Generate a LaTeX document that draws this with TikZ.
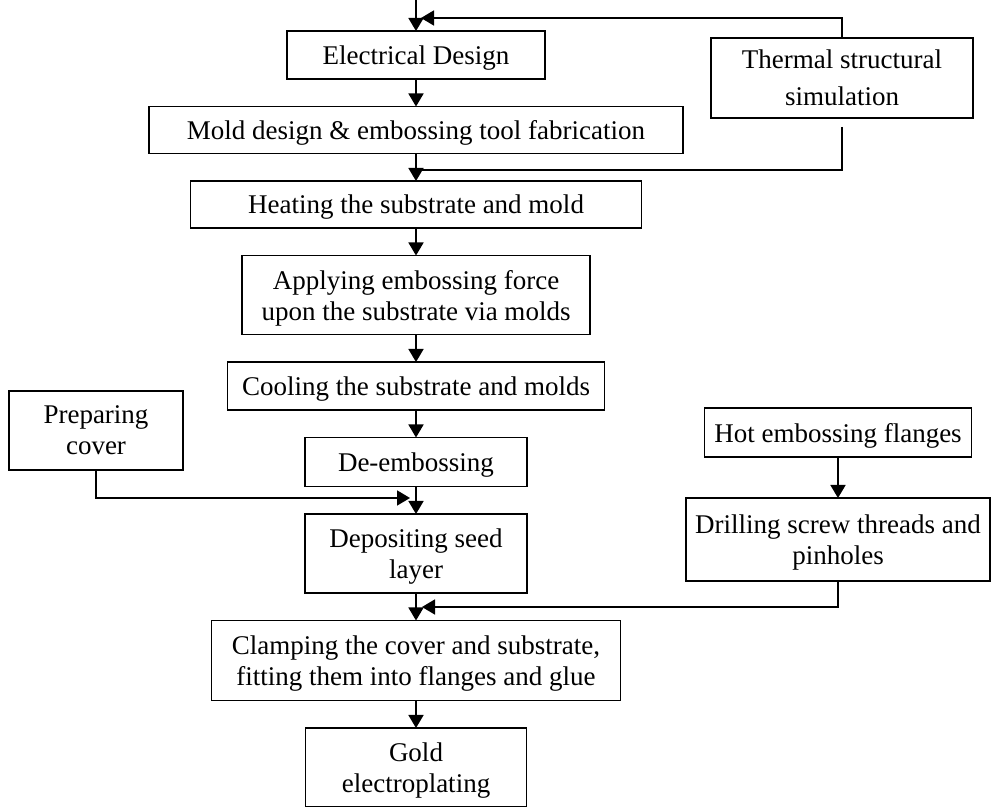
\documentclass[tikz,border=0pt]{standalone}
\usepackage{fontspec}
\setmainfont{Liberation Serif}
\usetikzlibrary{arrows.meta,positioning}
\tikzset{
    stage/.style = {draw, rectangle, align=center, inner sep=2pt, outer sep=0pt, text depth=0pt, font=\fontsize{13.5}{15.5}\selectfont},
    >={Triangle[width=7.5pt,length=6.5pt]},
}

\begin{document}
\begin{tikzpicture}[x=0.5pt, y=-0.5pt, node distance=13.75pt, line width=0.9pt]
    \useasboundingbox (0,0) rectangle (992,807);
    \coordinate (start) at (416,0);
    \node[stage, minimum width=129pt, minimum height=24pt] (elec) at (416,55) {Electrical Design};
    \node[stage, below=of elec, minimum width=267pt, minimum height=23.5pt] (mold) {Mold design \& embossing tool fabrication};
    \node[stage, below=of mold, minimum width=225.5pt, minimum height=23.5pt] (heat) {Heating the substrate and mold};
    \node[stage, below=of heat, minimum width=174pt, minimum height=39.5pt] (apply) {Applying embossing force\\upon the substrate via molds};
    \node[stage, below=of apply, minimum width=188.5pt, minimum height=24pt] (cool) {Cooling the substrate and molds};
    \node[stage, below=of cool, minimum width=111pt, minimum height=24.5pt] (demb) {De-embossing};
    \node[stage, below=of demb, minimum width=111pt, minimum height=39.5pt] (depo) {Depositing seed\\layer};
    \node[stage, below=of depo, minimum width=204.5pt, minimum height=40pt] (clamp) {Clamping the cover and substrate,\\fitting them into flanges and glue};
    \node[stage, below=of clamp, minimum width=110.5pt, minimum height=39.5pt] (gold) {Gold\\electroplating};

    % side branches
    \node[stage, minimum width=131pt, minimum height=40pt] (therm) at (842,78) {Thermal structural\\[3pt]simulation};
    \node[stage, minimum width=87pt, minimum height=39.5pt] (prep) at (96,430.5) {Preparing\\cover};
    \node[stage, minimum width=133.5pt, minimum height=24.5pt] (hot) at (838,432.5) {Hot embossing flanges};
    \node[stage, minimum width=152pt, minimum height=41.5pt] (drill) at (838,539.5) {Drilling screw threads and\\pinholes};

    \coordinate (fbin) at (421,18);
    \coordinate (thjoin) at (416,170);
    \coordinate (prepin) at (410,498);
    \coordinate (drillin) at (422,607);

    \draw[->] (start) -- (elec);
    \draw[->] (therm.north) |- (fbin);
    \draw[->] (elec) -- (mold);
    \draw (therm.south) ++(0,9) |- (thjoin);
    \draw[->] (mold) -- (heat);
    \draw[->] (heat) -- (apply);
    \draw[->] (apply) -- (cool);
    \draw[->] (cool) -- (demb);
    \draw[->] (prep) |- (prepin);
    \draw[->] (demb) -- (depo);
    \draw[->] (hot) -- (drill);
    \draw[->] (drill) |- (drillin);
    \draw[->] (depo) -- (clamp);
    \draw[->] (clamp) -- (gold);
\end{tikzpicture}
\end{document}
